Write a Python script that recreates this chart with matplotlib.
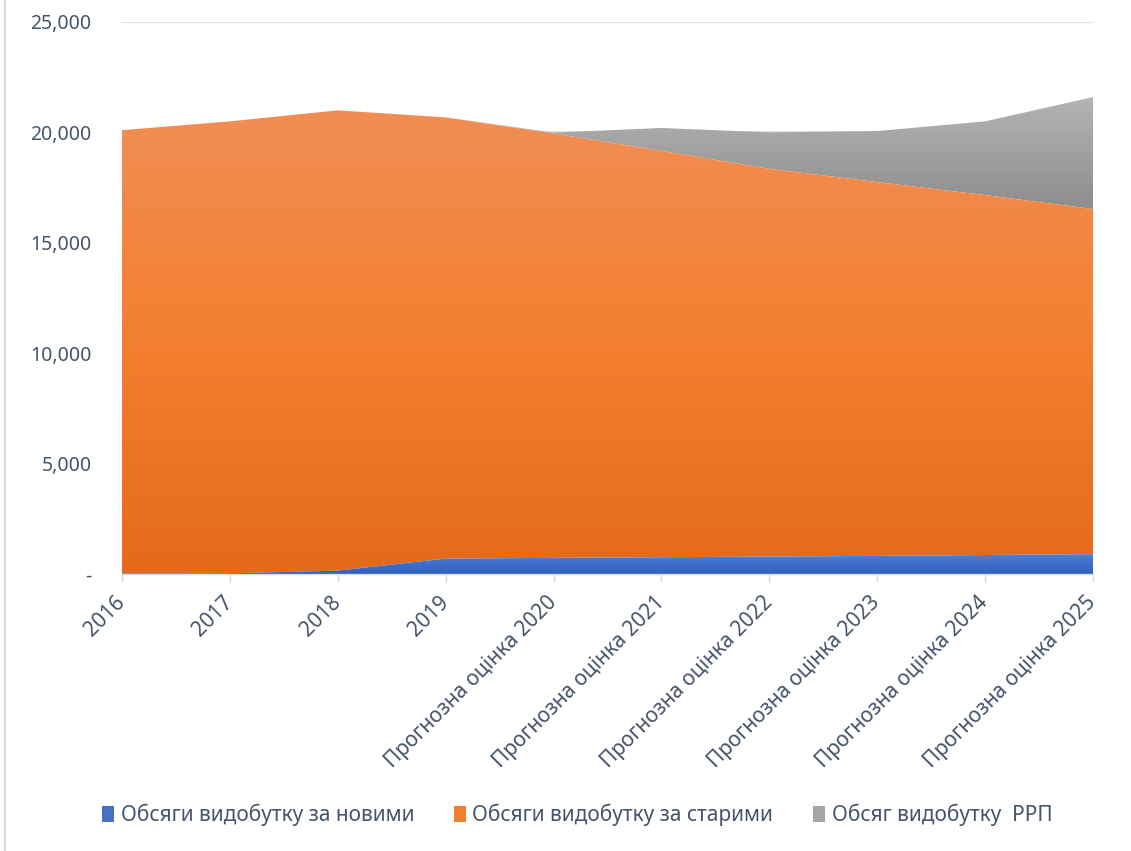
import matplotlib
matplotlib.use("Agg")
import matplotlib.pyplot as plt
import numpy as np
from matplotlib.colors import LinearSegmentedColormap
from matplotlib.patches import Patch
from matplotlib.lines import Line2D

plt.rcParams['font.family'] = ['Noto Sans', 'DejaVu Sans']

categories = ["2016", "2017", "2018", "2019",
              "Прогнозна оцінка 2020", "Прогнозна оцінка 2021",
              "Прогнозна оцінка 2022", "Прогнозна оцінка 2023",
              "Прогнозна оцінка 2024", "Прогнозна оцінка 2025"]
new_wells = [20, 30, 150, 700, 730, 760, 790, 820, 860, 900]
old_wells = [20080, 20470, 20850, 19980, 19220, 18400, 17560, 16930, 16300, 15630]
rrp = [0, 0, 0, 0, 40, 1040, 1650, 2310, 3340, 5070]

series_names = ["Обсяги видобутку за новими",
                "Обсяги видобутку за старими",
                "Обсяг видобутку  РРП"]

y_ticks = [0, 5000, 10000, 15000, 20000, 25000]
y_tick_labels = ["-", "5,000", "10,000", "15,000", "20,000", "25,000"]

text_color = "#44546A"
grid_color = "#D9D9D9"

fig = plt.figure(figsize=(11.31, 8.51), dpi=100)
ax = fig.add_axes([122 / 1131, 1 - 574 / 851, (1093 - 122) / 1131, (574 - 22) / 851])

x = np.arange(len(categories))
b0 = np.zeros(len(x))
b1 = b0 + np.array(new_wells)
b2 = b1 + np.array(old_wells)
b3 = b2 + np.array(rrp)


def gradient_area(lower, upper, colors, z):
    poly = ax.fill_between(x, lower, upper, facecolor="none", edgecolor="none", zorder=z)
    path = poly.get_paths()[0]
    cmap = LinearSegmentedColormap.from_list("g", colors)
    grad = np.linspace(1, 0, 256).reshape(-1, 1)
    ymin, ymax = float(np.min(lower)), float(np.max(upper))
    im = ax.imshow(grad, cmap=cmap, aspect="auto", interpolation="bicubic",
                   extent=[x[0], x[-1], ymin, ymax], origin="upper", zorder=z)
    im.set_clip_path(path, ax.transData)
    return poly


# colours run from bottom to top of each band
gradient_area(b0, b1, ["#2D5FBE", "#4F80D6"], 3)
gradient_area(b1, b2, ["#E36A1A", "#F47F30", "#F18E55"], 2)
gradient_area(b2, b3, ["#8D8D8D", "#B4B4B4"], 1)

ax.set_xlim(x[0], x[-1])
ax.set_ylim(0, 25000)

ax.set_yticks(y_ticks)
ax.set_yticklabels(y_tick_labels)
ax.yaxis.grid(True, color=grid_color, linewidth=1.2, zorder=0)
ax.set_axisbelow(True)
ax.tick_params(axis="y", length=0, pad=22, labelsize=14, labelcolor=text_color)

ax.set_xticks(x)
ax.set_xticklabels(categories, rotation=45, ha="right", va="center",
                   rotation_mode="anchor")
ax.tick_params(axis="x", length=6, width=1, color=grid_color, pad=12,
               labelsize=15, labelcolor=text_color)

for side in ["top", "right", "left"]:
    ax.spines[side].set_visible(False)
ax.spines["bottom"].set_color(grid_color)
ax.spines["bottom"].set_linewidth(1)
ax.spines["bottom"].set_zorder(5)

handles = [Patch(facecolor="#4472C4"), Patch(facecolor="#F07F2E"), Patch(facecolor="#A5A5A5")]
fig.legend(handles, series_names, loc="center", bbox_to_anchor=(577 / 1131, 1 - 815 / 851),
           ncol=3, frameon=False, handlelength=0.6, handleheight=0.8, handletextpad=0.3,
           columnspacing=1.9, fontsize=15, labelcolor=text_color)

fig.add_artist(Line2D([4.5 / 1131, 4.5 / 1131], [0, 1], transform=fig.transFigure,
                      color=grid_color, linewidth=1.5))

fig.savefig("out.png", dpi=100)
